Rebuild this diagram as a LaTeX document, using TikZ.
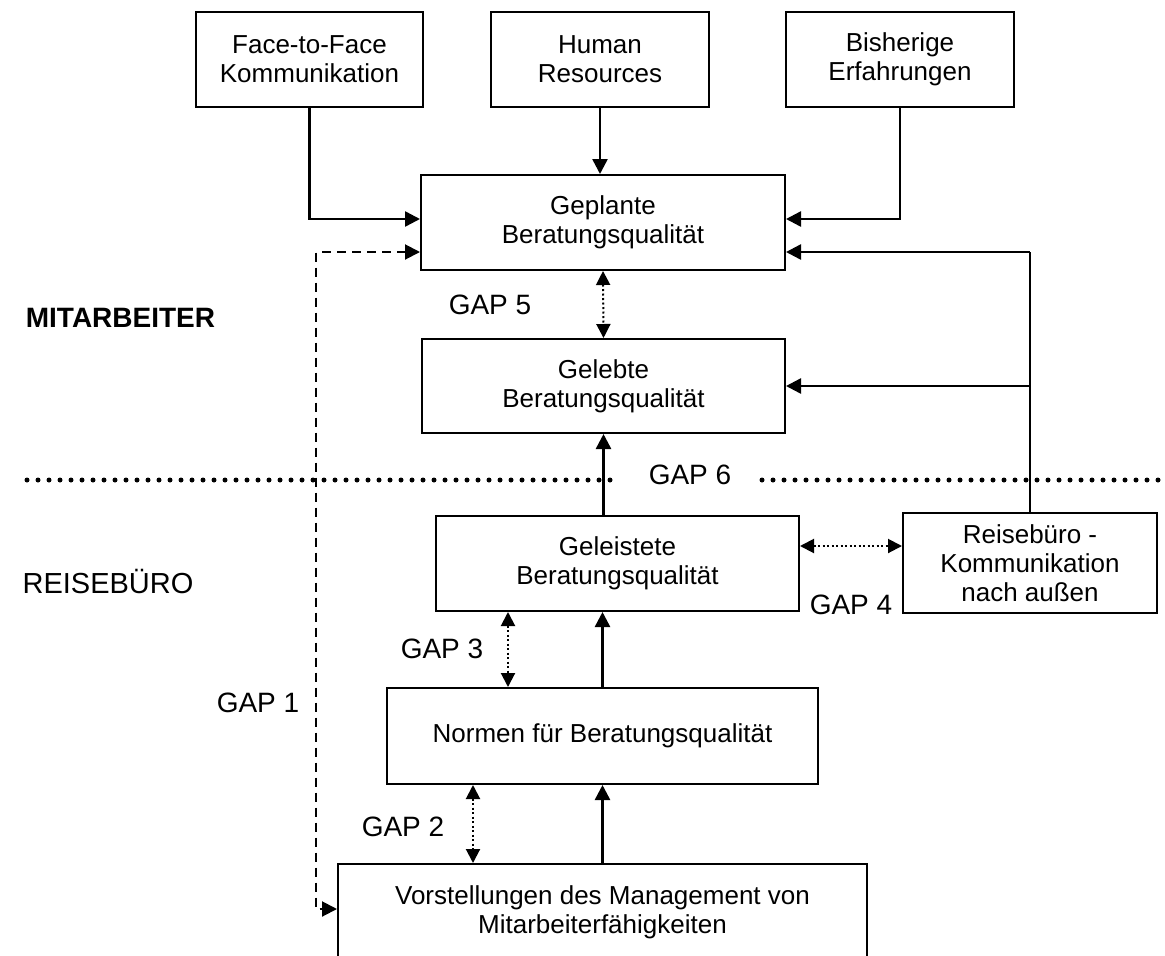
\documentclass[tikz,border=0pt]{standalone}
\usepackage{fontspec}
\setmainfont{Liberation Sans}
\usetikzlibrary{arrows.meta,calc}

\begin{document}
\begin{tikzpicture}[x=1pt,y=-1pt,
  box/.style={draw,line width=2pt,align=center,inner sep=0pt,
    font=\fontsize{26}{29}\selectfont},
  conn/.style={line width=2.5pt,-{Triangle[length=15pt,width=15pt]}},
  gapconn/.style={line width=2pt,dash pattern=on 2pt off 2.5pt,
    {Triangle[length=14pt,width=14pt]}-{Triangle[length=14pt,width=14pt]}},
  feedback/.style={line width=2pt,dash pattern=on 9pt off 6pt,
    {Triangle[length=15pt,width=15pt]}-{Triangle[length=15pt,width=15pt]}},
  sepline/.style={line width=5pt,line cap=round,dash pattern=on 0pt off 11pt},
  gaplabel/.style={inner sep=0pt,font=\fontsize{28}{32}\selectfont},
]
\useasboundingbox (0,0) rectangle (1165,956);

% upper sources
\node[box,minimum width=227pt,minimum height=95pt] (ftf) at (309.5,59.5) {Face-to-Face\\Kommunikation};
\node[box,minimum width=218pt,minimum height=95pt] (hr)  at (600,59.5)   {Human\\Resources};
\node[box,minimum width=228pt,minimum height=95pt] (bis) at (900,59.5)   {Bisherige\\Erfahrungen};

% employee side
\node[box,minimum width=364pt,minimum height=95pt] (gep) at (603,222.5) {Geplante\\Beratungsqualität};
\node[box,minimum width=363pt,minimum height=94pt] (gel) at (603.5,386) {Gelebte\\Beratungsqualität};

% agency side
\node[box,minimum width=363pt,minimum height=95pt] (gls) at (617.5,563.5) {Geleistete\\Beratungsqualität};
\node[box,minimum width=254pt,minimum height=100pt] (rei) at (1030,563) {Reisebüro -\\Kommunikation\\nach außen};
\node[box,minimum width=431pt,minimum height=96pt] (nor) at (602.5,736) {Normen für Beratungsqualität};
\node[box,minimum width=529pt,minimum height=96pt] (vor) at (602.5,912) {Vorstellungen des Management von\\Mitarbeiterfähigkeiten};

% section titles
\node[inner sep=0pt,font=\fontsize{28}{32}\selectfont\bfseries] (mit) at (120.5,318) {MITARBEITER};
\node[inner sep=0pt,font=\fontsize{29}{33}\selectfont] (rb) at (108,581) {REISEBÜRO};

% gap labels
\node[gaplabel] (g5) at (490,305) {GAP 5};
\node[gaplabel] (g6) at (690,475) {GAP 6};
\node[gaplabel] (g4) at (851,605) {GAP 4};
\node[gaplabel] (g3) at (442,649) {GAP 3};
\node[gaplabel] (g2) at (403,827) {GAP 2};
\node[gaplabel] (g1) at (258,703) {GAP 1};

% dotted separator between the two sides
\coordinate (sepA) at (27,480);
\coordinate (sepB) at (620,480);
\coordinate (sepC) at (762,480);
\coordinate (sepD) at (1160,480);
\draw[sepline] (sepA) -- (sepB);
\draw[sepline] (sepC) -- (sepD);

% inputs into the planned quality
\draw[conn] (ftf.south) |- ([yshift=3.5pt]gep.west);
\draw[conn] (hr.south) -- (hr.south |- gep.north);
\draw[conn] (bis.south) |- ([yshift=3.5pt]gep.east);

% external communication feeding back
\coordinate (rtop) at (1029,252);
\draw[line width=1.6pt] (rei.north) -- (rei.north |- rtop);
\draw[conn] (rei.north |- rtop) -- ([yshift=-29.5pt]gep.east);
\draw[conn] (rei.north |- gel.east) -- (gel.east);

% GAP 1 feedback loop
\coordinate (g1corner) at (316,909);
\draw[feedback] ([yshift=-29.5pt]gep.west) -| (g1corner) -- (vor.west |- g1corner);

% vertical flow
\draw[conn] (gel.south |- gls.north) -- (gel.south);
\draw[conn] (nor.north) -- (nor.north |- gls.south);
\draw[conn] (vor.north) -- (nor.south);

% gaps
\draw[gapconn] (gep.south) -- (gel.north);
\draw[gapconn] ([yshift=17.5pt]gls.east) -- ([yshift=17.5pt]gls.east -| rei.west);
\coordinate (g3x) at (508,0);
\draw[gapconn] (g3x |- gls.south) -- (g3x |- nor.north);
\coordinate (g2x) at (473,0);
\draw[gapconn] (g2x |- nor.south) -- (g2x |- vor.north);
\end{tikzpicture}
\end{document}
